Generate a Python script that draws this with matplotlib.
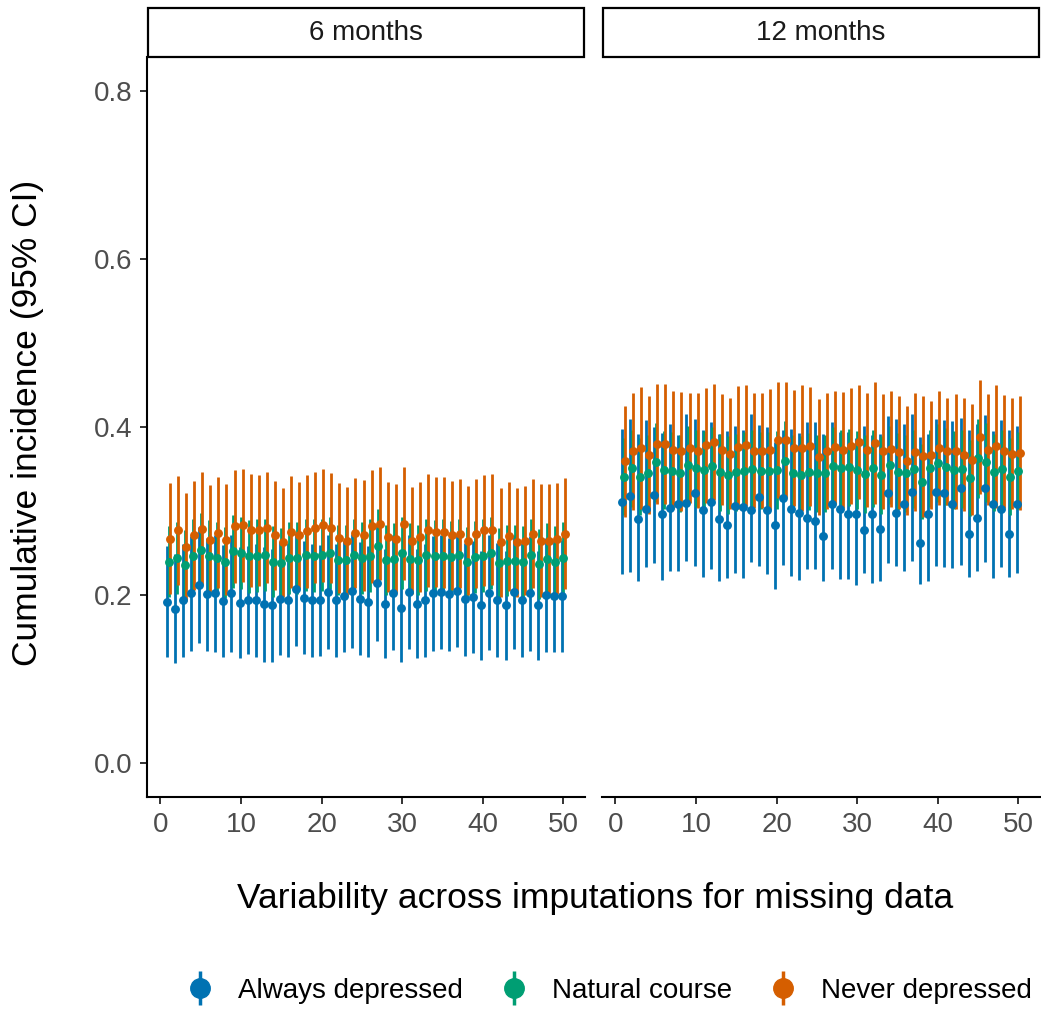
import numpy as np
import matplotlib
matplotlib.use("Agg")
import matplotlib.pyplot as plt
from matplotlib.lines import Line2D
from matplotlib.patches import Rectangle

plt.rcParams["font.family"] = ["Liberation Sans", "DejaVu Sans"]

imputation = np.arange(1, 51)
panels = ["6 months", "12 months"]
groups = ["Always depressed", "Natural course", "Never depressed"]
colors = ["#0072B2", "#009E73", "#D55E00"]

# ---- 6 months: estimates and 95% CI half-widths ----
always_6 = [0.192, 0.184, 0.194, 0.202, 0.212, 0.201, 0.202, 0.193, 0.202, 0.191,
            0.194, 0.194, 0.189, 0.188, 0.196, 0.194, 0.207, 0.197, 0.194, 0.194,
            0.204, 0.194, 0.199, 0.205, 0.196, 0.192, 0.214, 0.190, 0.203, 0.185,
            0.204, 0.190, 0.194, 0.202, 0.204, 0.201, 0.205, 0.195, 0.198, 0.188,
            0.203, 0.194, 0.188, 0.204, 0.194, 0.202, 0.188, 0.200, 0.199, 0.199]
always_6_hw = [0.066, 0.065, 0.067, 0.068, 0.069, 0.067, 0.069, 0.067, 0.069, 0.066,
               0.064, 0.067, 0.068, 0.067, 0.067, 0.068, 0.067, 0.067, 0.067, 0.066,
               0.068, 0.067, 0.066, 0.068, 0.067, 0.066, 0.069, 0.065, 0.068, 0.065,
               0.068, 0.065, 0.067, 0.068, 0.068, 0.067, 0.067, 0.067, 0.067, 0.065,
               0.068, 0.068, 0.065, 0.068, 0.068, 0.068, 0.065, 0.068, 0.067, 0.067]
natural_6 = [0.240, 0.244, 0.236, 0.247, 0.254, 0.246, 0.244, 0.239, 0.252, 0.250,
             0.246, 0.247, 0.248, 0.240, 0.238, 0.244, 0.244, 0.248, 0.247, 0.248,
             0.250, 0.242, 0.242, 0.248, 0.244, 0.247, 0.258, 0.242, 0.243, 0.250,
             0.243, 0.242, 0.248, 0.246, 0.247, 0.245, 0.248, 0.239, 0.245, 0.247,
             0.250, 0.238, 0.241, 0.241, 0.240, 0.248, 0.237, 0.243, 0.240, 0.244]
natural_6_hw = [0.042, 0.043, 0.042, 0.043, 0.044, 0.043, 0.043, 0.042, 0.043, 0.043,
                0.043, 0.043, 0.043, 0.042, 0.042, 0.043, 0.043, 0.043, 0.043, 0.043,
                0.043, 0.042, 0.042, 0.043, 0.043, 0.043, 0.044, 0.042, 0.043, 0.043,
                0.043, 0.042, 0.043, 0.043, 0.043, 0.043, 0.043, 0.042, 0.043, 0.043,
                0.043, 0.042, 0.042, 0.042, 0.042, 0.043, 0.042, 0.043, 0.042, 0.043]
never_6 = [0.267, 0.277, 0.257, 0.271, 0.279, 0.266, 0.274, 0.266, 0.282, 0.283,
           0.277, 0.277, 0.280, 0.271, 0.263, 0.275, 0.271, 0.276, 0.280, 0.283,
           0.280, 0.268, 0.264, 0.274, 0.271, 0.282, 0.285, 0.269, 0.267, 0.285,
           0.265, 0.269, 0.277, 0.275, 0.275, 0.271, 0.273, 0.265, 0.273, 0.277,
           0.278, 0.263, 0.270, 0.263, 0.265, 0.273, 0.265, 0.265, 0.267, 0.273]
never_6_hw = [0.066, 0.065, 0.064, 0.065, 0.067, 0.065, 0.066, 0.066, 0.067, 0.067,
              0.067, 0.066, 0.066, 0.065, 0.065, 0.067, 0.064, 0.067, 0.066, 0.067,
              0.065, 0.065, 0.065, 0.065, 0.066, 0.067, 0.067, 0.065, 0.065, 0.067,
              0.064, 0.065, 0.067, 0.065, 0.066, 0.065, 0.065, 0.065, 0.065, 0.066,
              0.066, 0.065, 0.065, 0.065, 0.065, 0.065, 0.067, 0.067, 0.066, 0.066]

# ---- 12 months ----
always_12 = [0.311, 0.318, 0.290, 0.303, 0.319, 0.296, 0.304, 0.309, 0.310, 0.322,
             0.301, 0.311, 0.291, 0.284, 0.306, 0.305, 0.301, 0.317, 0.301, 0.283,
             0.315, 0.302, 0.298, 0.292, 0.288, 0.270, 0.309, 0.302, 0.296, 0.297,
             0.277, 0.296, 0.279, 0.321, 0.298, 0.309, 0.323, 0.262, 0.297, 0.323,
             0.321, 0.309, 0.327, 0.273, 0.292, 0.327, 0.308, 0.303, 0.273, 0.309]
always_12_lo = [0.225, 0.228, 0.217, 0.233, 0.238, 0.218, 0.229, 0.229, 0.241, 0.235,
                0.222, 0.231, 0.217, 0.220, 0.226, 0.221, 0.240, 0.235, 0.225, 0.207,
                0.236, 0.223, 0.218, 0.231, 0.231, 0.217, 0.231, 0.219, 0.219, 0.212,
                0.226, 0.215, 0.217, 0.238, 0.235, 0.229, 0.241, 0.213, 0.217, 0.235,
                0.233, 0.232, 0.236, 0.222, 0.229, 0.239, 0.220, 0.233, 0.222, 0.226]
always_12_hi = [0.398, 0.409, 0.392, 0.408, 0.400, 0.393, 0.404, 0.390, 0.416, 0.410,
                0.397, 0.406, 0.392, 0.395, 0.401, 0.396, 0.415, 0.402, 0.400, 0.382,
                0.396, 0.398, 0.393, 0.406, 0.406, 0.392, 0.406, 0.394, 0.394, 0.387,
                0.401, 0.390, 0.392, 0.413, 0.410, 0.404, 0.416, 0.388, 0.392, 0.410,
                0.408, 0.407, 0.411, 0.397, 0.404, 0.414, 0.395, 0.408, 0.397, 0.401]
natural_12 = [0.341, 0.351, 0.341, 0.345, 0.358, 0.349, 0.348, 0.345, 0.355, 0.351,
              0.349, 0.354, 0.346, 0.343, 0.346, 0.348, 0.350, 0.348, 0.348, 0.349,
              0.360, 0.345, 0.343, 0.347, 0.345, 0.345, 0.354, 0.351, 0.352, 0.349,
              0.344, 0.351, 0.343, 0.355, 0.347, 0.345, 0.350, 0.335, 0.351, 0.357,
              0.353, 0.349, 0.350, 0.339, 0.363, 0.358, 0.346, 0.350, 0.341, 0.348]
natural_12_hw = [0.046, 0.046, 0.046, 0.046, 0.047, 0.046, 0.046, 0.046, 0.046, 0.046,
                 0.046, 0.046, 0.046, 0.046, 0.046, 0.046, 0.046, 0.046, 0.046, 0.046,
                 0.047, 0.046, 0.046, 0.046, 0.046, 0.046, 0.046, 0.046, 0.046, 0.046,
                 0.046, 0.046, 0.046, 0.046, 0.046, 0.046, 0.046, 0.045, 0.046, 0.046,
                 0.046, 0.046, 0.046, 0.045, 0.047, 0.047, 0.046, 0.046, 0.046, 0.046]
never_12 = [0.359, 0.371, 0.375, 0.367, 0.380, 0.380, 0.373, 0.371, 0.375, 0.372,
            0.378, 0.382, 0.373, 0.368, 0.376, 0.378, 0.372, 0.372, 0.373, 0.384,
            0.385, 0.375, 0.375, 0.377, 0.364, 0.372, 0.376, 0.373, 0.377, 0.382,
            0.373, 0.381, 0.371, 0.374, 0.370, 0.360, 0.370, 0.365, 0.367, 0.375,
            0.371, 0.371, 0.367, 0.361, 0.388, 0.373, 0.377, 0.371, 0.368, 0.369]
never_12_lo = [0.293, 0.301, 0.302, 0.297, 0.309, 0.309, 0.303, 0.300, 0.310, 0.304,
               0.310, 0.313, 0.307, 0.302, 0.303, 0.306, 0.304, 0.304, 0.301, 0.315,
               0.316, 0.306, 0.300, 0.306, 0.295, 0.303, 0.309, 0.304, 0.308, 0.314,
               0.305, 0.309, 0.303, 0.305, 0.303, 0.295, 0.300, 0.293, 0.303, 0.307,
               0.307, 0.303, 0.300, 0.295, 0.320, 0.307, 0.304, 0.304, 0.302, 0.301]
never_12_hi = [0.425, 0.441, 0.448, 0.437, 0.451, 0.451, 0.443, 0.442, 0.440, 0.440,
               0.446, 0.451, 0.439, 0.434, 0.449, 0.450, 0.440, 0.440, 0.445, 0.453,
               0.454, 0.444, 0.450, 0.448, 0.433, 0.441, 0.443, 0.442, 0.446, 0.450,
               0.441, 0.453, 0.439, 0.443, 0.437, 0.425, 0.440, 0.437, 0.431, 0.443,
               0.435, 0.439, 0.434, 0.427, 0.456, 0.439, 0.450, 0.438, 0.434, 0.437]


def sym(est, hw):
    est, hw = np.asarray(est), np.asarray(hw)
    return est, est - hw, est + hw


panel_data = [
    [sym(always_6, always_6_hw), sym(natural_6, natural_6_hw), sym(never_6, never_6_hw)],
    [(np.asarray(always_12), np.asarray(always_12_lo), np.asarray(always_12_hi)),
     sym(natural_12, natural_12_hw),
     (np.asarray(never_12), np.asarray(never_12_lo), np.asarray(never_12_hi))],
]

W, H = 1041, 1013
fig = plt.figure(figsize=(W / 100, H / 100), dpi=100)

dodge = [-0.19, 0.0, 0.19]
ax_left = [147, 602]
ax_w, ax_top, ax_bot = 438, 57, 797
strip_top = 8

for p, (label, series) in enumerate(zip(panels, panel_data)):
    ax = fig.add_axes([ax_left[p] / W, 1 - ax_bot / H, ax_w / W, (ax_bot - ax_top) / H])
    # all ranges first, then all points, as geom_pointrange does
    for k, (est, lo, hi) in enumerate(series):
        ax.vlines(imputation + dodge[k], lo, hi, color=colors[k], lw=2.0, zorder=2)
    for k, (est, lo, hi) in enumerate(series):
        ax.plot(imputation + dodge[k], est, "o", color=colors[k], ms=6.4, mew=0, zorder=3)

    ax.set_xlim(-1.67, 52.67)
    ax.set_ylim(-0.04, 0.84)
    ax.set_xticks([0, 10, 20, 30, 40, 50])
    ax.set_yticks([0.0, 0.2, 0.4, 0.6, 0.8])
    ax.set_yticklabels(["0.0", "0.2", "0.4", "0.6", "0.8"])
    for s in ["top", "right"]:
        ax.spines[s].set_visible(False)
    for s in ["left", "bottom"]:
        ax.spines[s].set_linewidth(1.5)
        ax.spines[s].set_color("black")
    ax.tick_params(length=5, width=1.4, color="#333333", labelsize=20,
                   labelcolor="#4D4D4D", pad=5.5)
    if p == 1:
        ax.spines["left"].set_visible(False)
        ax.tick_params(axis="y", left=False, labelleft=False)

    # facet strip
    fig.patches.append(Rectangle((ax_left[p] / W + 0.0007, 1 - ax_top / H),
                                 ax_w / W - 0.0014, (ax_top - strip_top) / H,
                                 transform=fig.transFigure, facecolor="white",
                                 edgecolor="black", lw=1.6, zorder=5))
    fig.text((ax_left[p] + ax_w / 2) / W, 1 - (ax_top + strip_top) / 2 / H, label,
             ha="center", va="center", fontsize=20, color="#1A1A1A", zorder=6)

fig.text(595 / W, 1 - 898 / H, "Variability across imputations for missing data",
         ha="center", va="center", fontsize=25.5)
fig.text(28 / W, 1 - 423 / H, "Cumulative incidence (95% CI)",
         ha="center", va="center", rotation=90, fontsize=25.5)

handles = [(Line2D([], [], color=c, marker="|", ms=24, mew=2.5, ls="none"),
            Line2D([], [], color=c, marker="o", ms=14, ls="none")) for c in colors]
fig.legend(handles, groups, loc="center", bbox_to_anchor=(609 / W, 1 - 991 / H),
           ncol=3, frameon=False, fontsize=20, handlelength=1.0, handletextpad=0.85,
           columnspacing=1.35, borderpad=0, numpoints=1)

fig.savefig("out.png", dpi=100)
